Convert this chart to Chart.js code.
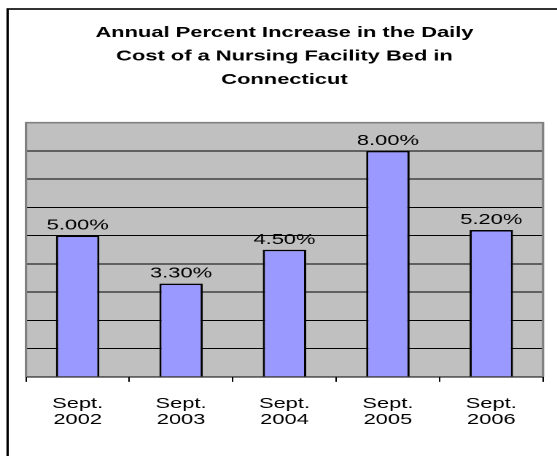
<!DOCTYPE html>
<html>
<head>
<meta charset="utf-8">
<script src="https://cdn.jsdelivr.net/npm/chart.js@4"></script>
<style>
  html, body { margin: 0; padding: 0; background: #fff; }
  /* the original picture is stretched sideways, so the canvas is drawn narrow and widened by CSS */
  #costChart { display: block; }
</style>
</head>
<body>
<canvas id="costChart" width="382" height="456" style="width:557px;height:456px"></canvas>
<script>
// Chart data
const categories = [["Sept.", "2002"], ["Sept.", "2003"], ["Sept.", "2004"], ["Sept.", "2005"], ["Sept.", "2006"]];
const increases = [5.0, 3.3, 4.5, 8.0, 5.2];
const valueLabels = ["5.00%", "3.30%", "4.50%", "8.00%", "5.20%"];
const titleLines = ["Annual Percent Increase in the Daily", "Cost of a Nursing Facility Bed in", "Connecticut"];

const FONT = "'Liberation Sans', Arial, sans-serif";

// Frame around the whole chart + grey plot background
const backdrop = {
    id: "backdrop",
    beforeDraw(chart) {
        const c = chart.ctx;
        const a = chart.chartArea;
        c.save();
        c.fillStyle = "#fff";
        c.fillRect(0, 0, chart.width, chart.height);
        c.strokeStyle = "#000";
        c.lineWidth = 1.6;
        c.strokeRect(5.2, 9, chart.width + 20, chart.height + 20);
        c.fillStyle = "#c0c0c0";
        c.fillRect(a.left, a.top, a.right - a.left, a.bottom - a.top);
        c.restore();
    },
    afterDatasetsDraw(chart) {
        const c = chart.ctx;
        const a = chart.chartArea;
        c.save();
        c.strokeStyle = "#808080";
        c.lineWidth = 1.6;
        c.beginPath();
        c.moveTo(a.left, a.bottom);
        c.lineTo(a.left, a.top);
        c.lineTo(a.right, a.top);
        c.lineTo(a.right, a.bottom);
        c.stroke();
        c.restore();
    }
};

// Percent labels above each bar
const barLabels = {
    id: "barLabels",
    afterDatasetsDraw(chart) {
        const c = chart.ctx;
        c.save();
        c.font = "15px " + FONT;
        c.fillStyle = "#000";
        c.textAlign = "center";
        c.textBaseline = "alphabetic";
        chart.getDatasetMeta(0).data.forEach((bar, i) => {
            c.fillText(valueLabels[i], bar.x, bar.y - 6);
        });
        c.restore();
    }
};

new Chart(document.getElementById("costChart"), {
    type: "bar",
    data: {
        labels: categories,
        datasets: [{
            data: increases,
            backgroundColor: "#9999ff",
            borderColor: "#000",
            borderWidth: 1.5,
            borderSkipped: "bottom",
            categoryPercentage: 1,
            barPercentage: 0.42
        }]
    },
    options: {
        responsive: false,
        animation: false,
        devicePixelRatio: 2,
        layout: { padding: { left: 17.8, right: 9.6, top: 21, bottom: 14 } },
        plugins: {
            legend: { display: false },
            tooltip: { enabled: false },
            title: {
                display: true,
                text: titleLines,
                color: "#000",
                font: { family: FONT, size: 15, weight: "bold", lineHeight: 1.57 },
                padding: { top: 0, bottom: 31 }
            }
        },
        scales: {
            x: {
                grid: { display: true, drawOnChartArea: false, drawTicks: true, tickLength: 5, color: "#000" },
                border: { display: true, color: "#000", width: 1 },
                ticks: {
                    color: "#000",
                    padding: 14,
                    maxRotation: 0,
                    font: { family: FONT, size: 15, lineHeight: 1.07 }
                }
            },
            y: {
                min: 0,
                max: 9,
                ticks: { display: false, stepSize: 1 },
                border: { display: false },
                grid: {
                    drawTicks: false,
                    color: ctx => (ctx.tick.value === 0 || ctx.tick.value === 9) ? "rgba(0,0,0,0)" : "#000"
                }
            }
        }
    },
    plugins: [backdrop, barLabels]
});
</script>
</body>
</html>
